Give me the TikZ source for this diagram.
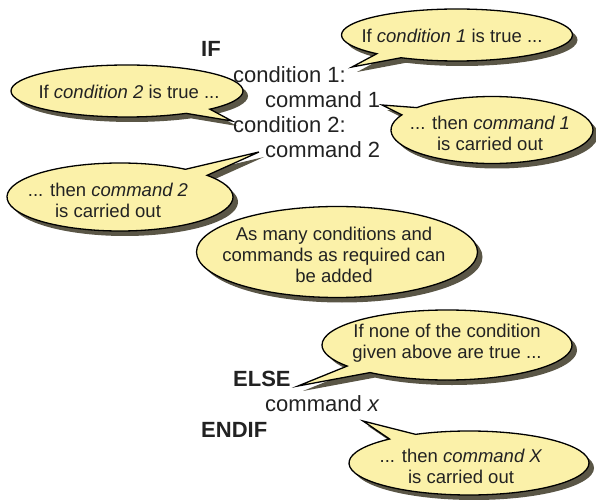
\documentclass[tikz,border=0pt]{standalone}
\usepackage{fontspec}
\setmainfont{Liberation Sans}
\usetikzlibrary{shapes.callouts,shapes.geometric,shadows}
\definecolor{bubblefill}{HTML}{FBF1A9}
\definecolor{bubbleshade}{HTML}{5A5646}
\definecolor{inktext}{HTML}{222222}

\begin{document}
\begin{tikzpicture}[x=1pt,y=-1pt,
  bubbleshadow/.style={drop shadow={shadow xshift=5pt,shadow yshift=-5pt,fill=bubbleshade,opacity=1}},
  bubble/.style={ellipse callout,draw=black,line width=1.3pt,fill=bubblefill,inner sep=0pt,bubbleshadow},
  plainbubble/.style={ellipse,draw=black,line width=1.3pt,fill=bubblefill,inner sep=0pt,bubbleshadow},
  btext/.style={align=center,inner sep=0pt,text=inktext,font=\fontsize{18.5}{21}\selectfont},
  code/.style={anchor=base west,inner sep=0pt,text=inktext,font=\fontsize{22}{25}\selectfont},
  kw/.style={code,font=\bfseries\fontsize{22}{25}\selectfont}]

\useasboundingbox (0,0) rectangle (596,502);

% pointer tips of the speech bubbles
\coordinate (p1) at (352,67);
\coordinate (p2) at (232,121);
\coordinate (p3) at (382,105);
\coordinate (p4) at (259,152);
\coordinate (p6) at (298,386);
\coordinate (p7) at (363,421);

% speech bubbles
\node[bubble,minimum width=231pt,minimum height=52pt,callout absolute pointer={(p1)}] (b1) at (457,35) {};
\node[bubble,minimum width=232pt,minimum height=52pt,callout absolute pointer={(p2)}] (b2) at (127,91) {};
\node[bubble,minimum width=202pt,minimum height=67pt,callout absolute pointer={(p3)}] (b3) at (492,130) {};
\node[bubble,minimum width=226pt,minimum height=68pt,callout absolute pointer={(p4)}] (b4) at (120,197) {};
\node[plainbubble,minimum width=281pt,minimum height=91pt] (b5) at (337,252) {};
\node[bubble,minimum width=250pt,minimum height=70pt,callout absolute pointer={(p6)}] (b6) at (447,345) {};
\node[bubble,minimum width=240pt,minimum height=64pt,callout absolute pointer={(p7)}] (b7) at (469,463) {};

% bubble texts
\node[btext] (t1) at (452,36) {If \textit{condition 1} is true ...};
\node[btext] (t2) at (129,92) {If \textit{condition 2} is true ...};
\node[btext] (t3) at (490,133) {... then \textit{command 1}\\is carried out};
\node[btext] (t4) at (108,200) {... then \textit{command 2}\\is carried out};
\node[btext] (t5) at (334,255) {As many conditions and\\commands as required can\\be added};
\node[btext] (t6) at (447,343) {If none of the condition\\given above are true ...};
\node[btext] (t7) at (461,466) {... then \textit{command X}\\is carried out};

% the IF ... ELSE ... ENDIF listing
\node[kw] (kif) at (201,57) {IF};
\node[code] (cond1) at (233,83) {condition 1:};
\node[code] (cmd1) at (265,108) {command 1};
\node[code] (cond2) at (233,133) {condition 2:};
\node[code] (cmd2) at (265,158) {command 2};
\node[kw] (kelse) at (233,386) {ELSE};
\node[code] (cmdx) at (265,411) {command \textit{x}};
\node[kw] (kendif) at (201,437) {ENDIF};
\end{tikzpicture}
\end{document}
